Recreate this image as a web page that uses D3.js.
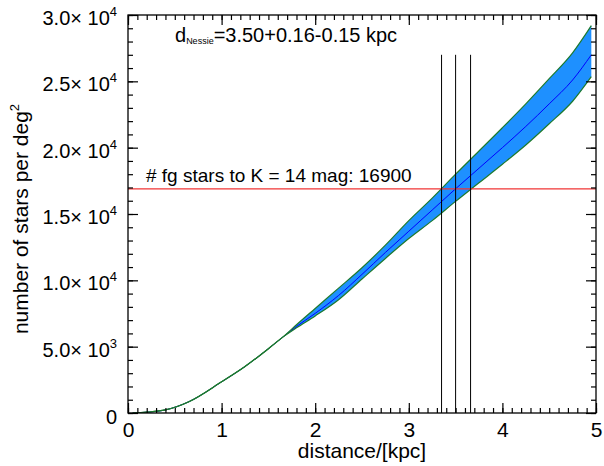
<!DOCTYPE html>
<html>
<head>
<meta charset="utf-8">
<script src="https://cdn.jsdelivr.net/npm/d3@7"></script>
<style>
  html, body { margin: 0; padding: 0; background: #fff; }
  svg { display: block; font-family: "Liberation Sans", Arial, Helvetica, sans-serif; }
</style>
</head>
<body>
<svg id="chart" width="604" height="466"></svg>
<script>
// Foreground star counts vs. distance, with the uncertainty band
const distKpc = [0.05, 0.2, 0.4, 0.65, 1.0, 1.25, 1.5, 1.65, 1.8, 2.0, 2.25, 2.5, 2.75, 3.0, 3.25, 3.5, 3.75, 4.0, 4.25, 4.5, 4.75, 4.95];
const starsMid  = [0, 60, 230, 850, 2350, 3500, 4850, 5700, 6520, 7510, 8860, 10450, 12100, 13700, 15300, 16900, 18450, 20000, 21600, 23300, 25100, 27000];
const starsHigh = [0, 60, 230, 850, 2350, 3500, 4850, 5700, 6650, 7880, 9410, 10950, 12650, 14500, 16200, 18000, 19750, 21500, 23300, 25200, 27150, 29200];
const starsLow  = [0, 60, 230, 850, 2350, 3500, 4850, 5700, 6420, 7315, 8540, 10100, 11650, 13150, 14500, 15950, 17350, 18750, 20200, 21800, 23500, 25350];

// Observed foreground count and the distances where it is matched
const fgCount = 16900;
const distMarks = [3.35, 3.50, 3.66];
const markTop = 27000;

// Axis tick labels
const xTicks = [0, 1, 2, 3, 4, 5];
const yTicks = [0, 5000, 10000, 15000, 20000, 25000, 30000];
const yTickMant = ["0", "5.0", "1.0", "1.5", "2.0", "2.5", "3.0"];
const yTickExp  = ["", "3", "4", "4", "4", "4", "4"];

const margin = { left: 128, right: 8, top: 15, bottom: 53 };
const W = 604, H = 466;
const svg = d3.select("#chart");

const x = d3.scaleLinear().domain([0, 5]).range([margin.left, W - margin.right]);
const y = d3.scaleLinear().domain([0, 30000]).range([H - margin.bottom, margin.top]);

const x0 = x.range()[0], x1 = x.range()[1];
const yb = y.range()[0], yt = y.range()[1];

svg.append("defs").append("clipPath").attr("id", "plotclip")
  .append("rect").attr("x", x0).attr("y", yt).attr("width", x1 - x0).attr("height", yb - yt);

const plot = svg.append("g").attr("clip-path", "url(#plotclip)");

const rows = distKpc.map((d, i) => ({ d, m: starsMid[i], hi: starsHigh[i], lo: starsLow[i] }));
const curve = d3.curveMonotoneX;

// uncertainty band
plot.append("path")
  .datum(rows)
  .attr("d", d3.area().x(r => x(r.d)).y0(r => y(r.lo)).y1(r => y(r.hi)).curve(curve))
  .attr("fill", "#1E90FF");

// central estimate
plot.append("path")
  .datum(rows)
  .attr("d", d3.line().x(r => x(r.d)).y(r => y(r.m)).curve(curve))
  .attr("fill", "none").attr("stroke", "#0000ff").attr("stroke-width", 1);

// band edges
["hi", "lo"].forEach(k => {
  plot.append("path")
    .datum(rows)
    .attr("d", d3.line().x(r => x(r.d)).y(r => y(r[k])).curve(curve))
    .attr("fill", "none").attr("stroke", "#1d7a2e").attr("stroke-width", 1.2);
});

// foreground count level
plot.append("line")
  .attr("x1", x(0)).attr("x2", x(5))
  .attr("y1", y(fgCount)).attr("y2", y(fgCount))
  .attr("stroke", "#f03535").attr("stroke-width", 1.3);

// distance markers
plot.selectAll("line.mark").data(distMarks).join("line")
  .attr("class", "mark")
  .attr("x1", d => x(d)).attr("x2", d => x(d))
  .attr("y1", y(markTop)).attr("y2", yb)
  .attr("stroke", "#000").attr("stroke-width", 1);

// axes with inward ticks on all four sides
const axisStyle = g => {
  g.select(".domain").remove();
  g.selectAll("line").attr("stroke", "#000").attr("stroke-width", 1.2);
};
const xMinor = d3.range(0, 50.5, 1).map(v => v / 10);
const yMinor = d3.range(0, 30001, 1000);

svg.append("g").attr("transform", `translate(0,${yb})`)
  .call(d3.axisBottom(x).tickValues(xMinor).tickSize(-5).tickFormat(""))
  .call(axisStyle);
svg.append("g").attr("transform", `translate(0,${yb})`)
  .call(d3.axisBottom(x).tickValues(xTicks).tickSize(-10).tickPadding(9).tickFormat(d3.format("d")))
  .call(axisStyle)
  .call(g => g.selectAll("text").attr("font-size", 21).attr("fill", "#000")
    .attr("font-family", "Liberation Sans, Arial, sans-serif"));

svg.append("g").attr("transform", `translate(0,${yt})`)
  .call(d3.axisTop(x).tickValues(xMinor).tickSize(-5).tickFormat(""))
  .call(axisStyle);
svg.append("g").attr("transform", `translate(0,${yt})`)
  .call(d3.axisTop(x).tickValues(xTicks).tickSize(-10).tickFormat(""))
  .call(axisStyle);

svg.append("g").attr("transform", `translate(${x0},0)`)
  .call(d3.axisLeft(y).tickValues(yMinor).tickSize(-5).tickFormat(""))
  .call(axisStyle);
svg.append("g").attr("transform", `translate(${x0},0)`)
  .call(d3.axisLeft(y).tickValues(yTicks).tickSize(-10).tickFormat(""))
  .call(axisStyle);

svg.append("g").attr("transform", `translate(${x1},0)`)
  .call(d3.axisRight(y).tickValues(yMinor).tickSize(-5).tickFormat(""))
  .call(axisStyle);
svg.append("g").attr("transform", `translate(${x1},0)`)
  .call(d3.axisRight(y).tickValues(yTicks).tickSize(-10).tickFormat(""))
  .call(axisStyle);

// frame
svg.append("rect")
  .attr("x", x0).attr("y", yt).attr("width", x1 - x0).attr("height", yb - yt)
  .attr("fill", "none").attr("stroke", "#000").attr("stroke-width", 1.3);

// y tick labels in scientific form
yTicks.forEach((v, i) => {
  const t = svg.append("text")
    .attr("x", 117).attr("y", y(v) + 10)
    .attr("text-anchor", "end")
    .attr("font-size", 20).attr("fill", "#000");
  if (yTickExp[i] === "") {
    t.attr("y", y(v) + 11).text(yTickMant[i]);
  } else {
    t.append("tspan").text(yTickMant[i] + "\u00D7 10");
    t.append("tspan").attr("font-size", 13).attr("dy", -9).text(yTickExp[i]);
  }
});

// axis titles
svg.append("text")
  .attr("x", (x0 + x1) / 2).attr("y", 458)
  .attr("text-anchor", "middle").attr("font-size", 21).attr("fill", "#000")
  .text("distance/[kpc]");

const yt2 = svg.append("text")
  .attr("transform", `translate(28,${(yb + yt) / 2 + 5}) rotate(-90)`)
  .attr("text-anchor", "middle").attr("font-size", 21).attr("fill", "#000");
yt2.append("tspan").text("number of stars per deg");
yt2.append("tspan").attr("font-size", 13).attr("dy", -9).text("2");

// annotations
const title = svg.append("text")
  .attr("x", 175).attr("y", 42).attr("font-size", 20).attr("fill", "#000");
title.append("tspan").text("d");
title.append("tspan").attr("font-size", 9).attr("dy", 2).text("Nessie");
title.append("tspan").attr("dy", -2).text("=3.50+0.16-0.15 kpc");

svg.append("text")
  .attr("x", 146).attr("y", 182).attr("font-size", 19).attr("fill", "#000")
  .text("# fg stars to K = 14 mag: 16900");
</script>
</body>
</html>
